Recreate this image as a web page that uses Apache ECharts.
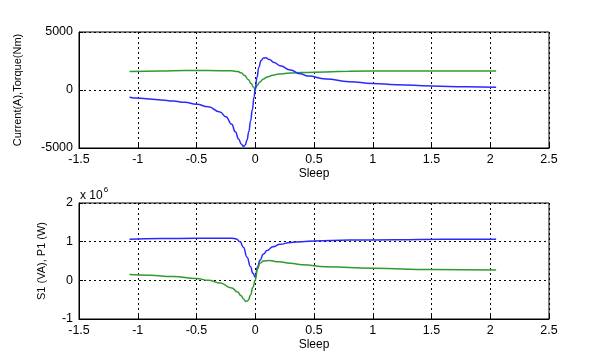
<!DOCTYPE html>
<html><head><meta charset="utf-8">
<script src="https://cdn.jsdelivr.net/npm/echarts@6/dist/echarts.min.js"></script>
<style>html,body{margin:0;padding:0;background:#fff}#c{width:606px;height:361px}</style>
</head><body><div id="c"></div>
<script>
// Top plot: Current (blue) and Torque (green) vs Sleep
const curX = [-1.07,-1.0,-0.9,-0.8,-0.7,-0.6,-0.5,-0.4,-0.3,-0.25,-0.2,-0.17,-0.14,-0.12,-0.1,-0.085,-0.07,-0.055,-0.04,-0.025,-0.01,0,0.015,0.03,0.05,0.07,0.09,0.12,0.16,0.21,0.3,0.38,0.45,0.6,0.8,1.0,1.2,1.5,1.8,2.05];
const curY = [-620,-700,-780,-860,-950,-1060,-1230,-1450,-1900,-2300,-2950,-3600,-4250,-4650,-4850,-4750,-4300,-3600,-2700,-1700,-600,100,1100,1950,2550,2750,2780,2620,2370,2100,1720,1400,1200,950,720,560,460,340,280,240];
const torX = [-1.07,-0.8,-0.6,-0.4,-0.2,-0.15,-0.12,-0.09,-0.06,-0.035,-0.015,0,0.015,0.04,0.07,0.1,0.15,0.2,0.3,0.4,0.6,0.8,1.2,1.6,2.05];
const torY = [1600,1630,1690,1680,1650,1600,1480,1250,900,550,250,60,380,700,950,1120,1280,1370,1460,1510,1560,1620,1640,1640,1640];
// Bottom plot: S1 (blue) and P1 (green), units of 10^6
const s1X = [-1.07,-0.8,-0.5,-0.3,-0.2,-0.16,-0.13,-0.1,-0.07,-0.04,-0.02,0,0.02,0.04,0.07,0.1,0.15,0.21,0.3,0.4,0.5,0.8,1.2,1.6,2.05];
const s1Y = [1.06,1.08,1.09,1.09,1.09,1.07,1.0,0.85,0.6,0.35,0.18,0.08,0.35,0.52,0.68,0.77,0.87,0.93,0.98,1.0,1.02,1.04,1.05,1.06,1.06];
const p1X = [-1.07,-0.9,-0.7,-0.5,-0.4,-0.3,-0.2,-0.15,-0.12,-0.1,-0.08,-0.06,-0.04,-0.02,0,0.02,0.04,0.07,0.12,0.2,0.3,0.4,0.6,1.0,1.5,2.05];
const p1Y = [0.15,0.13,0.10,0.05,0.0,-0.07,-0.2,-0.3,-0.4,-0.48,-0.55,-0.52,-0.38,-0.18,0.0,0.3,0.44,0.5,0.51,0.48,0.44,0.40,0.35,0.31,0.28,0.265];
const xTicks = {min:-1.5, max:2.5, interval:0.5};
const xName = 'Sleep';
const topYName = 'Current(A),Torque(Nm)';
const botYName = 'S1 (VA), P1 (W)';

const zip = (a,b) => a.map((v,i)=>[v,b[i]]);
const FONT = 'Liberation Sans';
const BLUE = '#2a2aff', GREEN = '#2f9a2f';
const split = {show:true, lineStyle:{color:'#000', type:[2,3], width:1}};
function xAxis(gi){
  return {type:'value', gridIndex:gi, min:xTicks.min, max:xTicks.max, interval:xTicks.interval,
    name:xName, nameLocation:'middle', nameGap:20, nameTextStyle:{color:'#000', fontFamily:FONT, fontSize:12},
    axisLine:{show:true, onZero:false, lineStyle:{color:'#000'}}, axisTick:{show:true, inside:true, length:4, lineStyle:{color:'#000'}},
    axisLabel:{color:'#000', fontFamily:FONT, fontSize:12.5, margin:5, formatter:v=>String(v)}, splitLine:split};
}
function yAxis(gi, min, max, interval, name, gap){
  return {type:'value', gridIndex:gi, min, max, interval,
    name, nameLocation:'middle', nameGap:gap, nameTextStyle:{color:'#000', fontFamily:FONT, fontSize:11},
    axisLine:{show:true, onZero:false, lineStyle:{color:'#000'}}, axisTick:{show:true, inside:true, length:4, lineStyle:{color:'#000'}},
    axisLabel:{color:'#000', fontFamily:FONT, fontSize:12.5, margin:6, formatter:v=>String(v)}, splitLine:split};
}
const chart = echarts.init(document.getElementById('c'), null, {renderer:'canvas'});
const lineS = (x,y,c,xi,yi) => ({type:'line', xAxisIndex:xi, yAxisIndex:yi, data:zip(x,y), showSymbol:false,
  smooth:0.5, smoothMonotone:'x', lineStyle:{color:c, width:1.5}, itemStyle:{color:c}, animation:false, z:3});
chart.setOption({
  backgroundColor:'#fff',
  animation:false,
  grid:[
    {left:79, top:32, width:470, height:116, show:true, borderColor:'#000', borderWidth:1, backgroundColor:'transparent'},
    {left:79, top:203, width:470, height:116, show:true, borderColor:'#000', borderWidth:1, backgroundColor:'transparent'}
  ],
  xAxis:[xAxis(0), xAxis(1)],
  yAxis:[yAxis(0,-5000,5000,5000,topYName,56), yAxis(1,-1,2,1,botYName,32)],
  series:[
    lineS(torX,torY,GREEN,0,0),
    lineS(curX,curY,BLUE,0,0),
    lineS(s1X,s1Y,BLUE,1,1),
    lineS(p1X,p1Y,GREEN,1,1)
  ],
  graphic:[{type:'text', left:80, top:186, style:{text:'{a|x 10}{b|6}', fontFamily:FONT,
    rich:{a:{fontSize:12, fill:'#000', fontFamily:FONT, verticalAlign:'bottom'}, b:{fontSize:8, fill:'#000', fontFamily:FONT, padding:[0,0,8,1]}}}}]
});
</script></body></html>
